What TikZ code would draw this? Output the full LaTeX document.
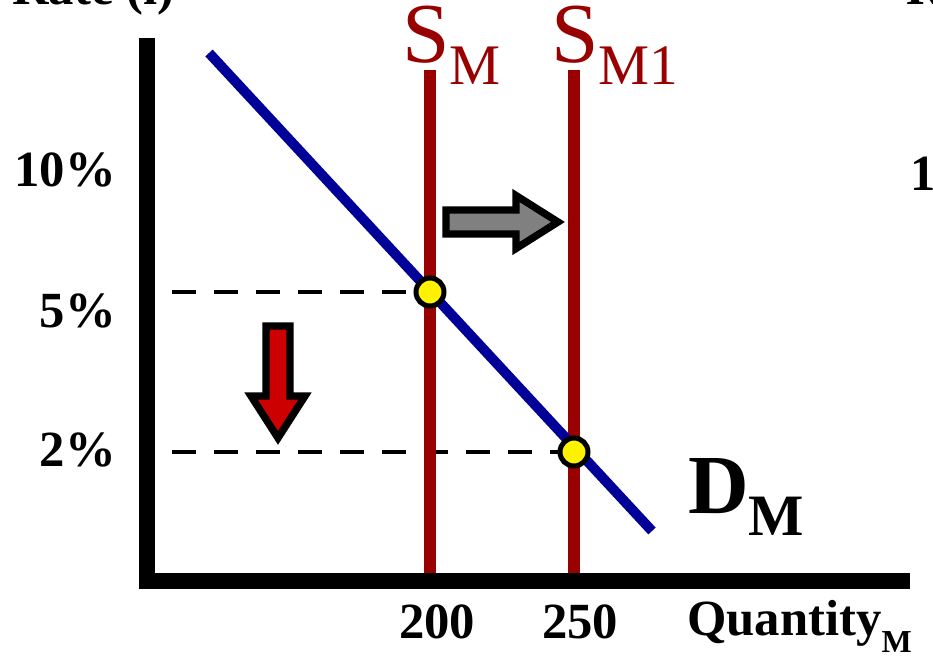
\documentclass[tikz,border=0pt]{standalone}
\usepackage{fontspec}
\setmainfont{Liberation Serif}
\usetikzlibrary{calc,positioning}
\definecolor{supplyred}{HTML}{990000}
\definecolor{demandblue}{HTML}{000099}
\definecolor{arrowred}{HTML}{CC0000}
\newcommand{\setfs}[1]{\fontsize{#1}{#1}\selectfont}

\begin{document}
\begin{tikzpicture}[
    x=0.75pt, y=-0.75pt,
    axis/.style={line width=12pt},
    supply/.style={supplyred, line width=9pt},
    demand/.style={demandblue, line width=7.5pt},
    guide/.style={line width=3pt, dash pattern=on 18pt off 13.5pt},
    eqpoint/.style={circle, draw, line width=3.75pt, fill=yellow, minimum size=21pt, inner sep=0pt},
    shiftarrow/.style={line width=5.5pt, miter limit=10},
    tick/.style={font=\setfs{38pt}\bfseries, inner sep=0pt},
    curvelabel/.style={inner sep=0pt, anchor=base west}
]
    \useasboundingbox (0,0) rectangle (933,663);
    \clip (0,0) rectangle (933,663);

    % guide lines to the rate axis
    \node[eqpoint, draw=none, fill=none] (eqold) at (430,292) {};
    \node[eqpoint, draw=none, fill=none] (eqnew) at (574,452) {};
    \coordinate (r5) at (172,292);
    \coordinate (r2) at (172,452);
    \draw[guide] (r5) -- (eqold);
    \draw[guide] (r2) -- (eqnew);

    % money supply
    \coordinate (sm-top) at (430,70);
    \coordinate (sm-foot) at (430,578);
    \coordinate (sm1-top) at (574,70);
    \coordinate (sm1-foot) at (574,578);
    \draw[supply] (sm-top) -- (sm-foot);
    \draw[supply] (sm1-top) -- (sm1-foot);

    % axes
    \coordinate (ytop) at (147,38);
    \coordinate (origin) at (147,581);
    \coordinate (xend) at (910,581);
    \draw[axis] (ytop) -- (origin) -- (xend);

    % money demand
    \coordinate (dm-start) at (209,53);
    \coordinate (dm-end) at (652,531);
    \draw[demand] (dm-start) -- (dm-end);

    \node[eqpoint] at (eqold) {};
    \node[eqpoint] at (eqnew) {};

    % shift arrows
    \filldraw[shiftarrow, fill=gray] (446,210) -- (516,210) -- (516,195.5) -- (558,222)
        -- (516,248.5) -- (516,234) -- (446,234) -- cycle;
    \filldraw[shiftarrow, fill=arrowred] (266,326) -- (290,326) -- (290,396) -- (305,396)
        -- (278,438) -- (251,396) -- (266,396) -- cycle;

    % labels
    \node[tick, anchor=base west] (ratelabel) at (12,5) {Rate (i)};
    \node[tick, anchor=base west] (ratelabel2) at (906,5) {Rate (i)};
    \node[tick, anchor=base west] (r10b) at (910,191) {10\%};
    \node[tick, anchor=base east] (r10) at (116,187) {10\%};
    \node[tick, anchor=base east] (r5lab) at (116,328) {5\%};
    \node[tick, anchor=base east] (r2lab) at (116,466) {2\%};
    \node[tick, anchor=base] (q200) at (437,638) {200};
    \node[tick, anchor=base] (q250) at (580,638) {250};

    \node[curvelabel, supplyred] (smlabel) at (402,63)
        {\setfs{64pt}S\raisebox{-16.5pt}{\setfs{43pt}M}};
    \node[curvelabel, supplyred] (sm1label) at (551,63)
        {\setfs{64pt}S\raisebox{-16.5pt}{\setfs{43pt}M1}};
    \node[curvelabel, font=\bfseries] (dmlabel) at (688,513)
        {\setfs{63pt}D\raisebox{-16.5pt}{\setfs{44pt}M}};
    \node[curvelabel, font=\bfseries] (qlabel) at (687,635)
        {\setfs{38pt}Quantity\raisebox{-13pt}{\setfs{24pt}M}};
\end{tikzpicture}
\end{document}
